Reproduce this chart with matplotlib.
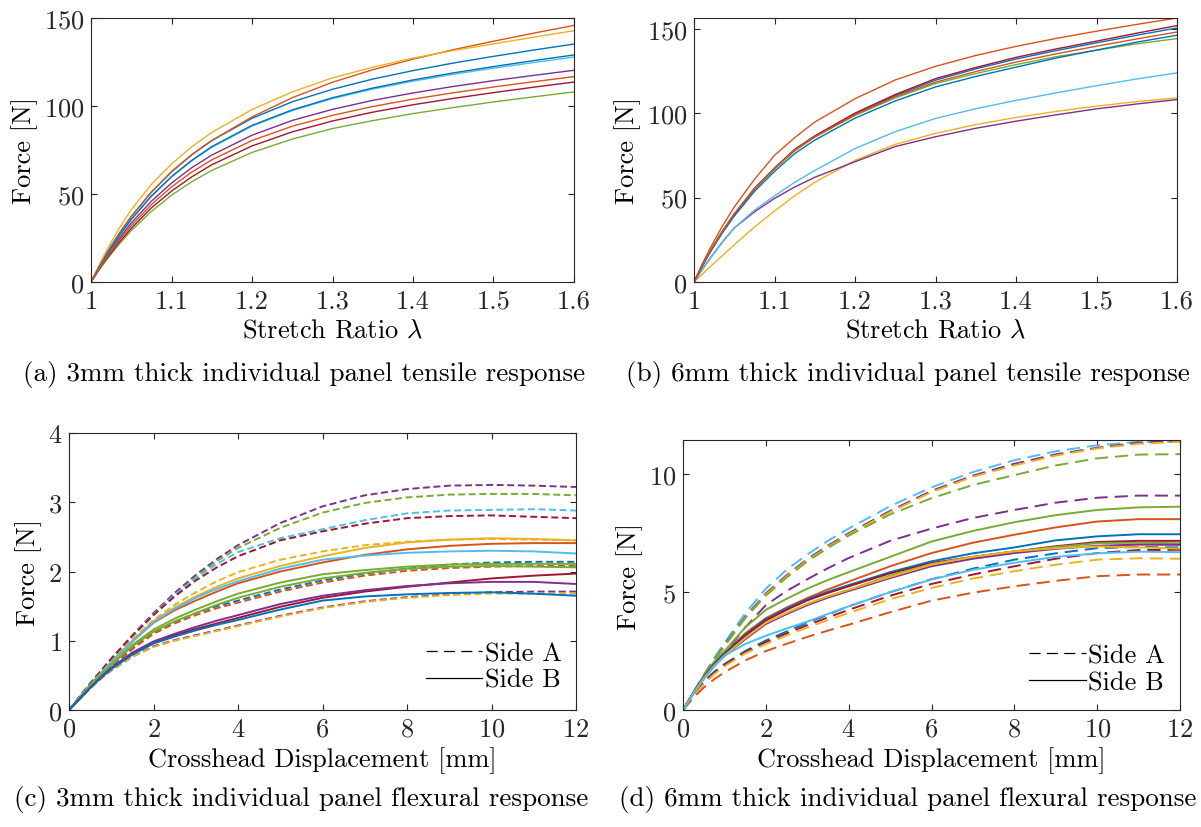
import matplotlib
matplotlib.use("Agg")
import matplotlib.pyplot as plt
from matplotlib.lines import Line2D

plt.rcParams["font.family"] = "serif"
plt.rcParams["font.serif"] = ["cmr10"]
plt.rcParams["mathtext.fontset"] = "cm"
plt.rcParams["axes.formatter.use_mathtext"] = True
plt.rcParams["lines.scale_dashes"] = False

# MATLAB default colour order
col = {"blue": "#0072BD", "orange": "#D95319", "yellow": "#EDB120", "purple": "#7E2F8E",
       "green": "#77AC30", "lightblue": "#4DBEEE", "darkred": "#A2142F"}

# ---- (a) 3mm tensile ----
stretch = [1.0, 1.01, 1.02, 1.035, 1.05, 1.075, 1.1, 1.125, 1.15, 1.2, 1.25, 1.3,
           1.35, 1.4, 1.45, 1.5, 1.55, 1.6]
tens3_force = [
    [0, 8.7, 16.7, 27.5, 37.2, 51.1, 62.7, 72.3, 80.4, 93.0, 102.4, 109.5, 115.3, 120.1, 124.4, 128.2, 131.8, 135.2],
    [0, 8.7, 16.7, 27.5, 37.2, 51.0, 62.5, 72.2, 80.3, 93.8, 104.7, 113.5, 120.6, 126.6, 132.0, 136.8, 141.4, 145.8],
    [0, 9.6, 18.5, 30.5, 41.0, 55.5, 67.0, 76.8, 85.0, 98.0, 108.0, 116.0, 122.0, 127.2, 131.5, 135.3, 139.1, 142.8],
    [0, 7.8, 14.9, 24.7, 33.5, 45.9, 56.2, 64.9, 72.1, 83.4, 91.8, 98.1, 103.2, 107.4, 111.1, 114.4, 117.4, 120.3],
    [0, 6.8, 13.0, 21.5, 29.2, 40.1, 49.3, 56.9, 63.4, 73.6, 81.2, 87.2, 91.7, 95.7, 99.1, 102.3, 105.2, 108.0],
    [0, 8.2, 15.8, 26.2, 35.4, 48.6, 59.6, 68.8, 76.5, 88.6, 97.4, 104.2, 109.6, 114.1, 118.0, 121.5, 124.7, 127.8],
    [0, 7.2, 13.6, 22.6, 30.5, 42.1, 51.6, 59.7, 66.6, 77.3, 85.3, 91.5, 96.5, 100.7, 104.3, 107.6, 110.7, 113.6],
    [0, 8.3, 15.9, 26.3, 35.6, 48.9, 59.9, 69.1, 76.9, 89.0, 97.8, 104.7, 110.2, 114.8, 118.8, 122.4, 125.8, 129.0],
    [0, 7.4, 14.3, 23.7, 32.0, 44.0, 54.0, 62.4, 69.4, 80.4, 88.5, 94.7, 99.7, 103.9, 107.5, 110.8, 113.8, 116.7],
]
tens_colors = ["blue", "orange", "yellow", "purple", "green", "lightblue", "darkred", "blue", "orange"]

# ---- (b) 6mm tensile ----
tens6_force = [
    [0, 9.3, 18.0, 29.6, 40.0, 55.0, 67.0, 78.0, 86.0, 99.3, 110.3, 119.5, 126.2, 132.0, 137.0, 141.6, 146.1, 150.4],
    [0, 10.4, 19.9, 32.9, 44.4, 60.7, 75.0, 85.4, 94.7, 108.5, 119.6, 127.7, 134.1, 139.5, 144.2, 148.5, 152.5, 156.3],
    [0, 4.5, 9.0, 15.5, 22.0, 32.5, 42.0, 51.0, 59.0, 72.0, 81.5, 88.0, 93.2, 97.4, 101.0, 104.1, 106.8, 109.0],
    [0, 7.2, 14.0, 23.5, 32.0, 41.5, 49.5, 56.2, 62.0, 71.2, 80.2, 86.0, 91.0, 95.2, 99.0, 102.5, 105.4, 108.0],
    [0, 9.3, 18.0, 29.6, 40.0, 54.8, 67.0, 77.6, 85.8, 98.6, 109.0, 117.5, 123.4, 128.7, 133.4, 137.2, 141.0, 144.1],
    [0, 7.2, 14.0, 23.5, 32.0, 42.5, 51.0, 59.0, 66.0, 79.0, 89.0, 96.8, 102.6, 107.5, 112.0, 116.2, 120.2, 123.8],
    [0, 9.4, 18.0, 29.8, 40.0, 55.4, 67.5, 78.5, 86.5, 100.0, 111.0, 120.4, 127.0, 133.0, 138.0, 142.6, 147.3, 151.8],
    [0, 9.1, 17.5, 28.9, 39.0, 53.6, 65.5, 76.0, 84.0, 97.0, 107.2, 115.5, 121.7, 127.2, 132.6, 137.3, 142.0, 146.1],
    [0, 9.4, 18.3, 29.9, 40.5, 55.2, 67.5, 78.0, 86.0, 99.0, 109.7, 118.3, 124.6, 130.2, 135.1, 139.6, 143.9, 148.0],
]

# ---- (c) 3mm flexural ----
disp = [0, 0.25, 0.5, 0.75, 1, 1.5, 2, 2.5, 3, 3.5, 4, 5, 6, 7, 8, 9, 10, 11, 12]
flex3_sideA = [
    [0, 0.19, 0.38, 0.56, 0.74, 1.08, 1.40, 1.69, 1.95, 2.18, 2.38, 2.70, 2.94, 3.10, 3.19, 3.24, 3.25, 3.24, 3.22],
    [0, 0.19, 0.38, 0.56, 0.74, 1.07, 1.38, 1.66, 1.92, 2.15, 2.34, 2.63, 2.85, 2.99, 3.07, 3.11, 3.12, 3.12, 3.10],
    [0, 0.19, 0.38, 0.56, 0.74, 1.07, 1.38, 1.66, 1.90, 2.11, 2.28, 2.48, 2.61, 2.74, 2.84, 2.88, 2.89, 2.90, 2.88],
    [0, 0.19, 0.38, 0.56, 0.74, 1.07, 1.37, 1.64, 1.87, 2.06, 2.22, 2.45, 2.58, 2.69, 2.77, 2.80, 2.81, 2.79, 2.77],
    [0, 0.18, 0.36, 0.53, 0.70, 1.02, 1.30, 1.52, 1.70, 1.86, 1.99, 2.17, 2.29, 2.38, 2.43, 2.46, 2.47, 2.46, 2.45],
    [0, 0.17, 0.33, 0.48, 0.63, 0.90, 1.12, 1.27, 1.40, 1.50, 1.58, 1.74, 1.87, 1.97, 2.04, 2.10, 2.13, 2.14, 2.14],
    [0, 0.17, 0.33, 0.48, 0.62, 0.88, 1.10, 1.25, 1.37, 1.47, 1.55, 1.71, 1.84, 1.94, 2.01, 2.05, 2.07, 2.08, 2.08],
    [0, 0.16, 0.31, 0.45, 0.57, 0.77, 0.92, 1.01, 1.08, 1.15, 1.22, 1.36, 1.48, 1.57, 1.63, 1.67, 1.70, 1.71, 1.71],
    [0, 0.16, 0.31, 0.45, 0.57, 0.77, 0.91, 1.00, 1.07, 1.14, 1.21, 1.35, 1.47, 1.56, 1.62, 1.66, 1.68, 1.68, 1.68],
]
flex3_colorsA = ["purple", "green", "lightblue", "darkred", "yellow", "blue", "orange", "purple", "yellow"]
flex3_sideB = [
    [0, 0.18, 0.36, 0.53, 0.69, 1.00, 1.28, 1.48, 1.64, 1.78, 1.90, 2.08, 2.22, 2.34, 2.42, 2.46, 2.48, 2.47, 2.45],
    [0, 0.18, 0.36, 0.53, 0.69, 0.99, 1.26, 1.44, 1.58, 1.71, 1.83, 2.00, 2.13, 2.24, 2.32, 2.37, 2.40, 2.41, 2.41],
    [0, 0.18, 0.36, 0.53, 0.69, 0.99, 1.27, 1.46, 1.62, 1.75, 1.86, 2.04, 2.17, 2.23, 2.27, 2.29, 2.30, 2.29, 2.26],
    [0, 0.18, 0.35, 0.51, 0.66, 0.94, 1.16, 1.32, 1.45, 1.57, 1.68, 1.84, 1.96, 2.02, 2.07, 2.10, 2.11, 2.11, 2.11],
    [0, 0.18, 0.35, 0.50, 0.65, 0.92, 1.13, 1.28, 1.40, 1.52, 1.62, 1.78, 1.90, 1.98, 2.04, 2.07, 2.08, 2.07, 2.06],
    [0, 0.16, 0.32, 0.47, 0.60, 0.81, 0.97, 1.08, 1.17, 1.25, 1.33, 1.49, 1.62, 1.71, 1.78, 1.84, 1.90, 1.94, 1.97],
    [0, 0.16, 0.32, 0.47, 0.61, 0.83, 0.99, 1.10, 1.20, 1.29, 1.37, 1.53, 1.65, 1.73, 1.79, 1.83, 1.85, 1.85, 1.82],
    [0, 0.16, 0.32, 0.46, 0.59, 0.80, 0.96, 1.06, 1.15, 1.23, 1.30, 1.45, 1.58, 1.64, 1.67, 1.69, 1.70, 1.68, 1.65],
]
flex3_colorsB = ["yellow", "orange", "lightblue", "green", "green", "darkred", "purple", "blue"]

# ---- (d) 6mm flexural ----
flex6_sideA = [
    [0, 0.75, 1.50, 2.20, 2.85, 4.10, 5.15, 5.95, 6.60, 7.18, 7.70, 8.65, 9.45, 10.10, 10.60, 10.98, 11.24, 11.38, 11.38],
    [0, 0.73, 1.45, 2.12, 2.75, 3.95, 4.95, 5.72, 6.40, 6.98, 7.50, 8.45, 9.30, 9.95, 10.45, 10.85, 11.13, 11.35, 11.42],
    [0, 0.73, 1.45, 2.10, 2.70, 3.90, 4.90, 5.67, 6.35, 6.93, 7.45, 8.40, 9.25, 9.90, 10.38, 10.80, 11.10, 11.30, 11.38],
    [0, 0.73, 1.45, 2.10, 2.70, 3.90, 4.85, 5.62, 6.30, 6.88, 7.40, 8.30, 8.99, 9.55, 9.97, 10.38, 10.68, 10.84, 10.86],
    [0, 0.67, 1.30, 1.88, 2.40, 3.50, 4.45, 5.05, 5.55, 6.02, 6.45, 7.18, 7.70, 8.15, 8.49, 8.80, 9.01, 9.10, 9.10],
    [0, 0.65, 1.20, 1.62, 1.95, 2.50, 2.95, 3.33, 3.70, 4.05, 4.40, 5.00, 5.55, 6.00, 6.38, 6.65, 6.87, 6.92, 6.90],
    [0, 0.62, 1.15, 1.57, 1.90, 2.45, 2.88, 3.25, 3.60, 3.93, 4.25, 4.85, 5.35, 5.75, 6.10, 6.42, 6.66, 6.79, 6.80],
    [0, 0.60, 1.10, 1.52, 1.85, 2.40, 2.80, 3.16, 3.50, 3.82, 4.12, 4.70, 5.18, 5.58, 5.89, 6.17, 6.38, 6.44, 6.42],
    [0, 0.52, 0.95, 1.30, 1.60, 2.10, 2.50, 2.81, 3.10, 3.37, 3.62, 4.15, 4.64, 4.98, 5.25, 5.48, 5.68, 5.75, 5.75],
]
flex6_colorsA = ["lightblue", "purple", "yellow", "green", "purple", "blue", "darkred", "yellow", "orange"]
flex6_sideB = [
    [0, 0.75, 1.45, 2.05, 2.50, 3.50, 4.25, 4.72, 5.15, 5.52, 5.85, 6.50, 7.15, 7.60, 7.97, 8.27, 8.49, 8.60, 8.63],
    [0, 0.72, 1.40, 1.95, 2.40, 3.25, 3.90, 4.35, 4.75, 5.12, 5.45, 6.10, 6.66, 7.10, 7.44, 7.75, 8.00, 8.10, 8.10],
    [0, 0.72, 1.40, 1.95, 2.40, 3.20, 3.85, 4.30, 4.70, 5.02, 5.30, 5.85, 6.31, 6.65, 6.90, 7.20, 7.37, 7.46, 7.46],
    [0, 0.72, 1.40, 1.92, 2.35, 3.15, 3.80, 4.25, 4.65, 4.97, 5.25, 5.80, 6.24, 6.50, 6.73, 6.95, 7.13, 7.18, 7.18],
    [0, 0.70, 1.35, 1.87, 2.30, 3.05, 3.70, 4.12, 4.50, 4.82, 5.10, 5.70, 6.20, 6.50, 6.73, 6.92, 7.08, 7.10, 7.08],
    [0, 0.70, 1.35, 1.87, 2.30, 3.00, 3.65, 4.07, 4.45, 4.77, 5.05, 5.60, 6.10, 6.42, 6.66, 6.84, 6.97, 7.02, 7.01],
    [0, 0.70, 1.35, 1.87, 2.30, 3.05, 3.70, 4.12, 4.50, 4.82, 5.10, 5.65, 6.17, 6.50, 6.73, 6.87, 6.94, 6.90, 6.85],
    [0, 0.70, 1.30, 1.85, 2.30, 2.80, 3.15, 3.46, 3.75, 4.08, 4.40, 5.00, 5.54, 5.95, 6.25, 6.50, 6.65, 6.72, 6.70],
]
flex6_colorsB = ["green", "orange", "blue", "darkred", "green", "purple", "yellow", "lightblue"]

captions = ["(a) 3mm thick individual panel tensile response",
            "(b) 6mm thick individual panel tensile response",
            "(c) 3mm thick individual panel flexural response",
            "(d) 6mm thick individual panel flexural response"]

FS = 19
W, H = 1201, 828
fig = plt.figure(figsize=(W / 100, H / 100), dpi=100)


def px_axes(left, top, right, bottom):
    return fig.add_axes([left / W, 1 - bottom / H, (right - left) / W, (bottom - top) / H])


def style(ax):
    ax.tick_params(direction="in", length=4.5, width=0.8, top=True, right=True,
                   labelsize=FS, colors="#262626", pad=5)
    for s in ax.spines.values():
        s.set_color("#262626")
        s.set_linewidth(0.8)


axa = px_axes(91, 19, 574, 283)
axb = px_axes(694, 19, 1177, 283)
axc = px_axes(69, 434, 576, 711)
axd = px_axes(683, 441, 1180, 711)

for ax, data in [(axa, tens3_force), (axb, tens6_force)]:
    for f, c in zip(data, tens_colors):
        ax.plot(stretch, f, color=col[c], lw=1.0)
    ax.set_xlim(1, 1.6)
    ax.set_xticks([1, 1.1, 1.2, 1.3, 1.4, 1.5, 1.6])
    ax.set_xticklabels(["1", "1.1", "1.2", "1.3", "1.4", "1.5", "1.6"])
    ax.set_yticks([0, 50, 100, 150])
    ax.set_xlabel(r"Stretch Ratio $\lambda$", fontsize=FS, labelpad=4)
    ax.set_ylabel("Force [N]", fontsize=FS, labelpad=4)
    style(ax)
axa.set_ylim(0, 150)
axb.set_ylim(0, 156.3)

legend_pos = {axc: (0.972, 0.065), axd: (0.970, 0.059)}
for ax, dA, cA, dB, cB, dash, ymax, yt in [
        (axc, flex3_sideA, flex3_colorsA, flex3_sideB, flex3_colorsB, (5, 2.6), 4, [0, 1, 2, 3, 4]),
        (axd, flex6_sideA, flex6_colorsA, flex6_sideB, flex6_colorsB, (9.5, 5), 11.46, [0, 5, 10])]:
    for f, c in zip(dA, cA):
        ax.plot(disp, f, color=col[c], lw=1.4, linestyle=(0, dash))
    for f, c in zip(dB, cB):
        ax.plot(disp, f, color=col[c], lw=1.4)
    ax.set_xlim(0, 12)
    ax.set_ylim(0, ymax)
    ax.set_xticks(range(0, 13, 2))
    ax.set_yticks(yt)
    ax.set_xlabel("Crosshead Displacement [mm]", fontsize=FS, labelpad=4)
    ax.set_ylabel("Force [N]", fontsize=FS, labelpad=4)
    style(ax)
    handles = [Line2D([], [], color="black", lw=0.9, linestyle=(0, (8, 4.5))),
               Line2D([], [], color="black", lw=0.9)]
    ax.legend(handles, ["Side A", "Side B"], loc="lower right", frameon=False,
              fontsize=FS, handlelength=2.15, handletextpad=0.1, labelspacing=0.1,
              borderaxespad=0, borderpad=0, bbox_to_anchor=legend_pos[ax])

fig.text(304 / W, 1 - 375 / H, captions[0], ha="center", va="center", fontsize=FS + 0.5)
fig.text(908 / W, 1 - 375 / H, captions[1], ha="center", va="center", fontsize=FS + 0.5)
fig.text(301 / W, 1 - 800 / H, captions[2], ha="center", va="center", fontsize=FS + 0.5)
fig.text(908 / W, 1 - 800 / H, captions[3], ha="center", va="center", fontsize=FS + 0.5)

fig.savefig("out.png", dpi=100)
